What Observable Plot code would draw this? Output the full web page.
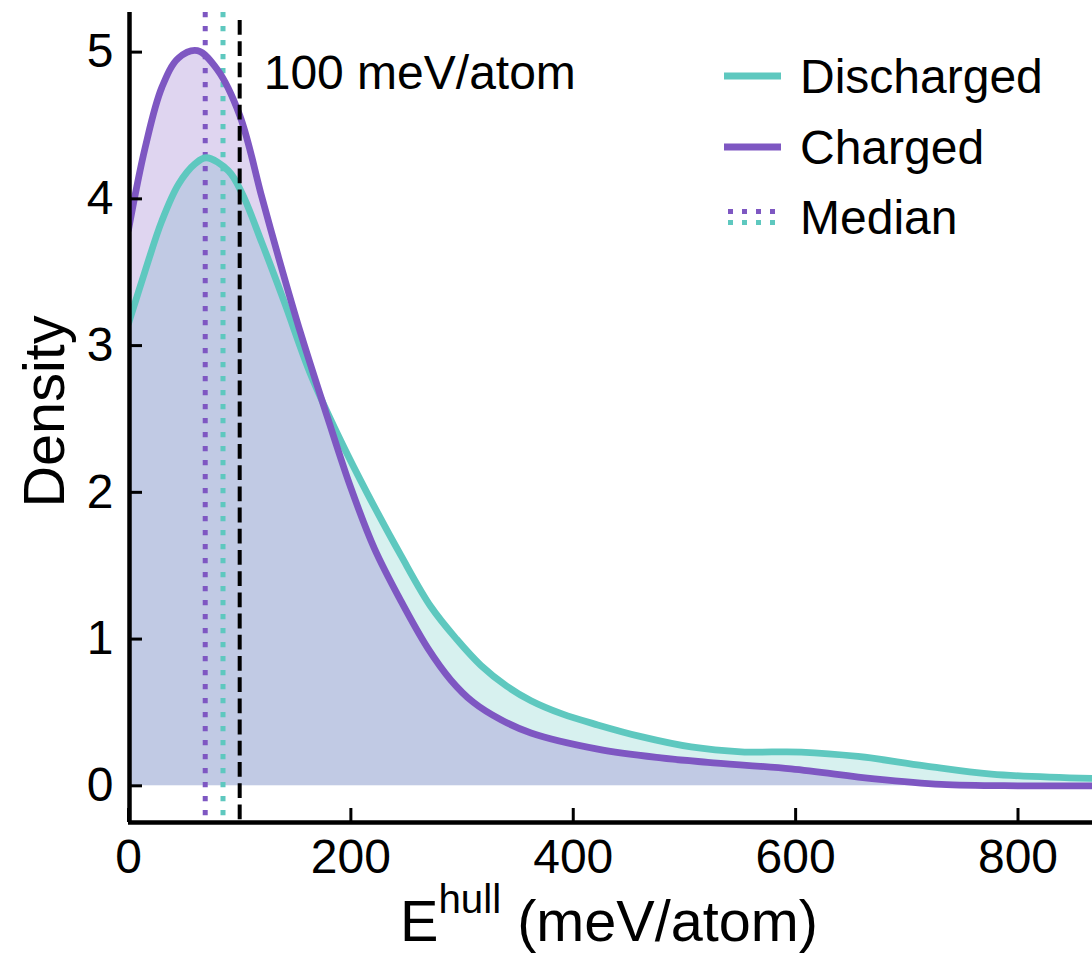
<!DOCTYPE html>
<html><head><meta charset="utf-8">
<script src="https://cdn.jsdelivr.net/npm/d3@7"></script>
<script src="https://cdn.jsdelivr.net/npm/@observablehq/plot@0.6"></script>
<style>body{margin:0;background:#fff;} svg{display:block}</style>
</head><body><div id="chart"></div>
<script>
// ---- data ----
const chargedE = [0,15,30,45,62,80,100,120,135,155,179,200,221,245,269,290,310,335,362,422,479,521,596,671,731,800,867];
const chargedDensity = [3.79,4.35,4.76,4.96,5.01,4.88,4.57,4.01,3.60,3.08,2.51,2.03,1.62,1.26,0.94,0.72,0.57,0.45,0.36,0.25,0.19,0.16,0.115,0.048,0.01,0.0,0.0];
const dischargedE = [0,15,30,45,60,70,90,102,120,140,164,191,215,245,272,295,317,340,362,390,422,461,506,551,605,656,716,776,867];
const dischargedDensity = [3.15,3.51,3.85,4.10,4.24,4.28,4.19,4.04,3.70,3.30,2.80,2.35,1.99,1.57,1.22,1.0,0.82,0.68,0.58,0.49,0.415,0.335,0.265,0.232,0.23,0.20,0.136,0.08,0.05];
const medianCharged = 69;
const medianDischarged = 85;
const threshold = 100;
const thresholdLabel = "100 meV/atom";
const xTicks = [0,200,400,600,800];
const yTicks = [0,1,2,3,4,5];
const xDomain = [0,867];
const yDomain = [-0.25,5.27];
const legendNames = ["Discharged","Charged","Median"];
const yLabel = "Density";

const teal = "#5ec8bf", purple = "#7e57c2";
const charged = chargedE.map((x,i)=>({x, y: chargedDensity[i]}));
const discharged = dischargedE.map((x,i)=>({x, y: dischargedDensity[i]}));

const font = "'Liberation Sans', Arial, Helvetica, sans-serif";
const W = 1092, H = 953, mL = 128, mR = 0, mT = 12, mB = 131;
const innerW = W - mL - mR, innerH = H - mT - mB;
const tickLen = 14;
const curve = "catmull-rom";

const chart = Plot.plot({
  width: W, height: H,
  marginLeft: mL, marginRight: mR, marginTop: mT, marginBottom: mB,
  style: {fontFamily: font, fontSize: "48px", background: "#fff", color: "#000"},
  x: {domain: xDomain, label: null},
  y: {domain: yDomain, label: null},
  marks: [
    Plot.areaY(discharged, {x: "x", y: "y", fill: teal, fillOpacity: 0.25, curve, clip: true}),
    Plot.areaY(charged, {x: "x", y: "y", fill: purple, fillOpacity: 0.25, curve, clip: true}),
    Plot.ruleX([medianCharged], {stroke: purple, strokeWidth: 5, strokeDasharray: "5.2,8.8"}),
    Plot.ruleX([medianDischarged], {stroke: teal, strokeWidth: 5, strokeDasharray: "5.2,8.8"}),
    Plot.lineY(discharged, {x: "x", y: "y", stroke: teal, strokeWidth: 6.8, curve, clip: true}),
    Plot.lineY(charged, {x: "x", y: "y", stroke: purple, strokeWidth: 6.8, curve, clip: true}),
    Plot.ruleX([threshold], {stroke: "#000", strokeWidth: 4, strokeDasharray: "14.8,6.4", insetTop: 8}),
    Plot.text([thresholdLabel], {x: [threshold], frameAnchor: "top", textAnchor: "start", lineAnchor: "middle", dx: 24, dy: 61, fontSize: 48, fill: "#000"}),
    // inward ticks
    Plot.ruleX(xTicks, {x: d => d, insetTop: innerH - tickLen, strokeWidth: 3, stroke: "#000"}),
    Plot.ruleY(yTicks, {y: d => d, insetRight: innerW - tickLen, strokeWidth: 3, stroke: "#000"}),
    // spines
    Plot.ruleY([yDomain[0]], {strokeWidth: 4.5, stroke: "#000"}),
    Plot.ruleX([xDomain[0]], {strokeWidth: 4.5, stroke: "#000", dx: 1}),
    Plot.axisX({ticks: xTicks, tickSize: 0, tickPadding: 16, fontSize: 48, label: null, tickFormat: d => String(d)}),
    Plot.axisY({ticks: yTicks, tickSize: 0, tickPadding: 15, fontSize: 48, label: null, tickFormat: d => String(d)}),
    Plot.text([yLabel], {frameAnchor: "left", rotate: -90, textAnchor: "middle", lineAnchor: "bottom", dx: -65, dy: -6, fontSize: 57.6, fill: "#000"})
  ]
});
document.getElementById("chart").appendChild(chart);

const svg = d3.select(chart);
// x-axis label with superscript
const xl = svg.append("text")
  .attr("x", 609).attr("y", 941)
  .attr("text-anchor", "middle")
  .attr("font-family", font).attr("font-size", 57.6).attr("fill", "#000")
  .style("white-space", "pre");
xl.append("tspan").text("E");
xl.append("tspan").attr("font-size", 40.3).attr("dy", -28).text("hull");
xl.append("tspan").attr("dy", 28).text(" (meV/atom)");

// legend
const lg = svg.append("g").attr("font-family", font).attr("font-size", 48).attr("fill", "#000").attr("text-anchor", "start");
const rows = [76, 147, 217];
lg.append("line").attr("x1", 724).attr("x2", 781).attr("y1", rows[0]).attr("y2", rows[0]).attr("stroke", teal).attr("stroke-width", 6.8);
lg.append("line").attr("x1", 724).attr("x2", 781).attr("y1", rows[1]).attr("y2", rows[1]).attr("stroke", purple).attr("stroke-width", 6.8);
lg.append("line").attr("x1", 728).attr("x2", 775).attr("y1", rows[2] - 5.5).attr("y2", rows[2] - 5.5).attr("stroke", purple).attr("stroke-width", 5).attr("stroke-dasharray", "5,9");
lg.append("line").attr("x1", 728).attr("x2", 775).attr("y1", rows[2] + 5.5).attr("y2", rows[2] + 5.5).attr("stroke", teal).attr("stroke-width", 5).attr("stroke-dasharray", "5,9");
legendNames.forEach((n, i) => {
  lg.append("text").attr("x", 800).attr("y", rows[i]).attr("dy", "0.35em").attr("text-anchor", "start").text(n);
});
</script>
</body></html>
